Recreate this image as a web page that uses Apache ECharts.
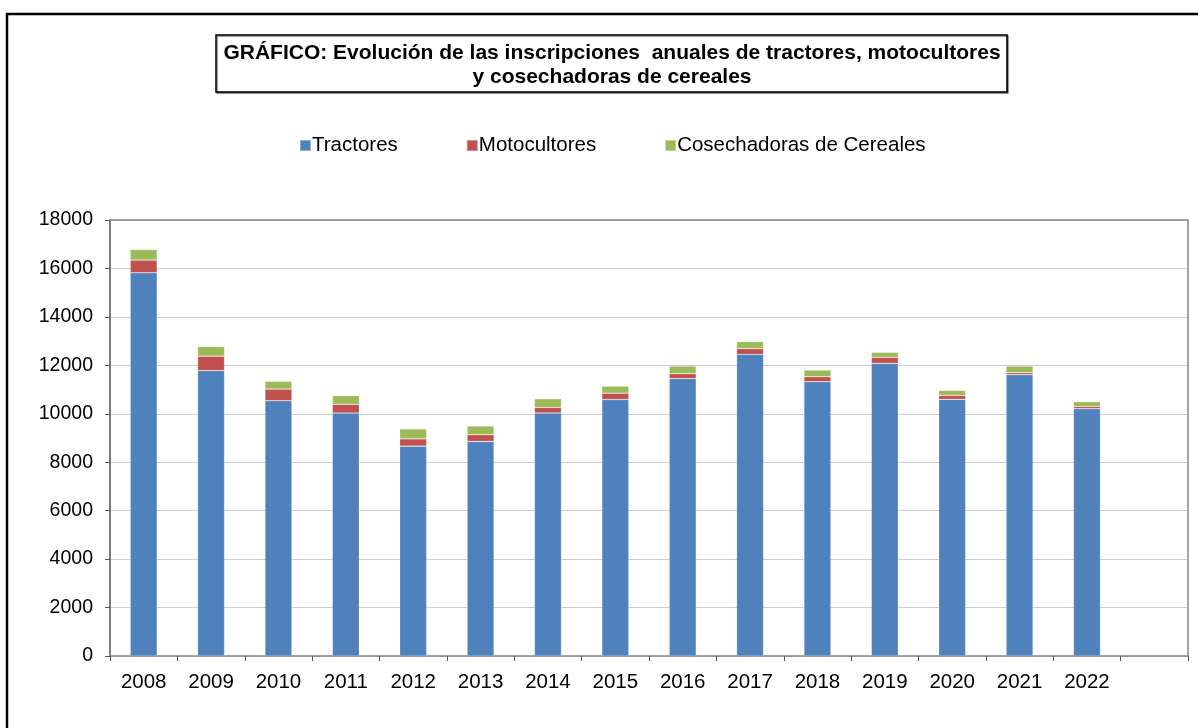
<!DOCTYPE html>
<html>
<head>
    <meta charset="utf-8"/>
    <title>Inscripciones anuales</title>
    <script src="https://cdn.jsdelivr.net/npm/echarts@6/dist/echarts.min.js"></script>
    <style>
        html, body { margin: 0; padding: 0; background: #fff; }
        #chart { width: 1198px; height: 728px; }
    </style>
</head>
<body>
<div id="chart"></div>
<script type="text/javascript">
    // valores
    let years = ['2008', '2009', '2010', '2011', '2012', '2013', '2014', '2015',
        '2016', '2017', '2018', '2019', '2020', '2021', '2022'];
    let tractores = [15820, 11780, 10540, 10030, 8665, 8860, 10030, 10590,
        11450, 12455, 11325, 12080, 10595, 11615, 10210];
    let motocultores = [525, 596, 480, 360, 300, 275, 230, 260,
        205, 235, 205, 250, 165, 80, 95];
    let cosechadoras = [440, 400, 320, 360, 410, 360, 360, 290,
        315, 290, 275, 205, 205, 275, 195];
    let yTicks = [0, 2000, 4000, 6000, 8000, 10000, 12000, 14000, 16000, 18000];

    // hay una categoría vacía al final del eje
    let categories = years.concat(['']);

    let font = 'Arial, "Liberation Sans", sans-serif';

    let makeSeries = function (name, color, data) {
        return {
            name: name,
            type: 'bar',
            stack: 'total',
            barWidth: '40%',
            itemStyle: {color: color, borderColor: 'rgba(255,255,255,0.35)', borderWidth: 0.6},
            data: data.concat([null])
        };
    };

    let chart = echarts.init(document.getElementById('chart'), null, {renderer: 'canvas'});
    chart.setOption({
        animation: false,
        backgroundColor: '#fff',
        textStyle: {fontFamily: font},
        graphic: [
            {
                id: 'outer',
                type: 'rect',
                shape: {x: 7, y: 14, width: 1200, height: 730},
                style: {fill: 'none', stroke: '#000', lineWidth: 2.5},
                silent: true
            },
            {
                id: 'titleBox',
                type: 'rect',
                shape: {x: 216, y: 35, width: 791, height: 57},
                style: {fill: '#fff', stroke: '#000', lineWidth: 1.5, shadowColor: 'rgba(0,0,0,0.5)', shadowOffsetX: 1, shadowOffsetY: 1, shadowBlur: 1},
                silent: true
            },
            {
                id: 'titleText',
                type: 'text',
                x: 612,
                y: 65,
                style: {
                    text: 'GRÁFICO: Evolución de las inscripciones  anuales de tractores, motocultores\ny cosechadoras de cereales',
                    font: 'bold 21px ' + font,
                    fill: '#000',
                    align: 'center',
                    verticalAlign: 'middle',
                    lineHeight: 24
                },
                silent: true
            }
        ],
        legend: {
            left: 294,
            top: 130,
            icon: 'rect',
            itemWidth: 11,
            itemHeight: 11,
            itemGap: 68,
            textStyle: {fontSize: 20.5, color: '#000', fontFamily: font, padding: [0, 0, 0, -4]},
            data: ['Tractores', 'Motocultores', 'Cosechadoras de Cereales']
        },
        grid: {left: 110, right: 10, top: 220, bottom: 72, containLabel: false},
        xAxis: {
            type: 'category',
            data: categories,
            boundaryGap: true,
            axisLine: {lineStyle: {color: '#868686', width: 1.5}},
            axisTick: {show: true, length: 5, lineStyle: {color: '#555'}},
            axisLabel: {fontSize: 20.5, color: '#000', margin: 16, interval: 0},
            splitLine: {show: false}
        },
        yAxis: {
            type: 'value',
            min: yTicks[0],
            max: yTicks[yTicks.length - 1],
            interval: yTicks[1] - yTicks[0],
            axisLine: {show: true, lineStyle: {color: '#555', width: 1.5}},
            axisTick: {show: true, length: 5, lineStyle: {color: '#555'}},
            axisLabel: {fontSize: 19.5, color: '#000', margin: 17, formatter: function (v) { return String(v); }},
            splitLine: {show: true, lineStyle: {color: '#cfcfcf', width: 1.2}}
        },
        series: [
            makeSeries('Tractores', '#4F81BD', tractores),
            makeSeries('Motocultores', '#C0504D', motocultores),
            makeSeries('Cosechadoras de Cereales', '#9BBB59', cosechadoras)
        ]
    });

    // borde gris del área de trazado (arriba y derecha)
    let rect = chart.getModel().getComponent('grid').coordinateSystem.getRect();
    chart.setOption({
        graphic: [
            {
                id: 'plotBorder',
                type: 'polyline',
                shape: {points: [[rect.x, rect.y], [rect.x + rect.width, rect.y], [rect.x + rect.width, rect.y + rect.height]]},
                style: {stroke: '#868686', lineWidth: 1.5, fill: 'none'},
                silent: true,
                z: 10
            }
        ]
    });
</script>
</body>
</html>
